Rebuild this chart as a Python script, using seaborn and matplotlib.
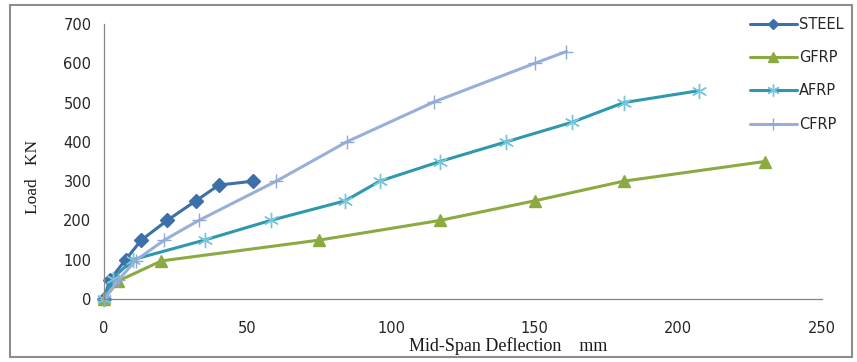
import matplotlib
matplotlib.use("Agg")
import matplotlib.pyplot as plt
import seaborn as sns
import pandas as pd
from matplotlib.patches import Rectangle

sns.set_theme(style="white")
plt.rcParams['font.family'] = ['DejaVu Sans']

steel_x = [0, 2, 7.5, 13, 22, 32, 40, 52]
steel_y = [0, 48, 100, 150, 200, 250, 290, 300]
gfrp_x = [0, 5, 20, 75, 117, 150, 181, 230]
gfrp_y = [0, 46, 97, 150, 200, 250, 300, 350]
afrp_x = [0, 3, 10, 35, 58, 84, 96, 117, 140, 163, 181, 207]
afrp_y = [0, 52, 100, 150, 200, 250, 300, 350, 400, 450, 500, 530]
cfrp_x = [0, 5, 11, 21, 33, 60, 84.5, 115, 150, 161]
cfrp_y = [0, 48, 98, 150, 200, 300, 400, 502, 600, 630]

names = ["STEEL", "GFRP", "AFRP", "CFRP"]
xs = [steel_x, gfrp_x, afrp_x, cfrp_x]
ys = [steel_y, gfrp_y, afrp_y, cfrp_y]

colors = ["#3D6FA8", "#8CAA42", "#2E98AF", "#98AFD9"]
mcolors = ["#3D6FA8", "#8CAA42", "#79C6DA", "#8FA8D6"]
markers = ["D", "^", (6, 2, 0), "+"]
msizes = [7, 9, 11, 10]
mews = [1, 1, 1.0, 1.0]

fig = plt.figure(figsize=(8.57, 3.62), dpi=100)
ax = fig.add_axes([104/857, 1-299/362, (822-104)/857, (299-24)/362])

for n, x, y, c, mc, m, ms, mew in zip(names, xs, ys, colors, mcolors, markers, msizes, mews):
    df = pd.DataFrame({"x": x, "y": y})
    sns.lineplot(data=df, x="x", y="y", ax=ax, color=c, linewidth=2.2,
                 marker=m, markersize=ms, markerfacecolor=mc, markeredgecolor=mc,
                 markeredgewidth=mew, estimator=None, sort=False, label=n, clip_on=False)

ax.set_xlim(0, 250)
ax.set_ylim(0, 700)
ax.set_xticks([0, 50, 100, 150, 200, 250])
ax.set_yticks(range(0, 701, 100))
for s in ["top", "right"]:
    ax.spines[s].set_visible(False)
for s in ["left", "bottom"]:
    ax.spines[s].set_color("#868686")
    ax.spines[s].set_linewidth(0.9)
ax.tick_params(axis="both", direction="out", length=5, width=0.9, color="#868686",
               labelsize=10.5, labelcolor="#262626", pad=4)
ax.tick_params(axis="x", pad=11)

ax.set_xlabel("Mid-Span Deflection    mm", family="Liberation Serif", fontsize=13,
              color="#1a1a1a")
ax.xaxis.set_label_coords((508-104)/718, (299-337)/275)
ax.set_ylabel("Load   KN", family="Liberation Serif", fontsize=12.5, color="#1a1a1a")
ax.yaxis.set_label_coords((41-104)/718, (299-177)/275)

leg = ax.legend(loc="upper left", bbox_to_anchor=(750/857, 1-17/362), bbox_transform=fig.transFigure,
                frameon=False, fontsize=10.5, handlelength=3.2, handletextpad=0.15,
                labelspacing=1.25, borderpad=0, borderaxespad=0, markerscale=0.8)

fig.patches.append(Rectangle((10/857, 5/362), 842/857, 352/362, transform=fig.transFigure,
                             fill=False, edgecolor="#8c8c8c", linewidth=1.5))

fig.savefig("out.png", dpi=100)
